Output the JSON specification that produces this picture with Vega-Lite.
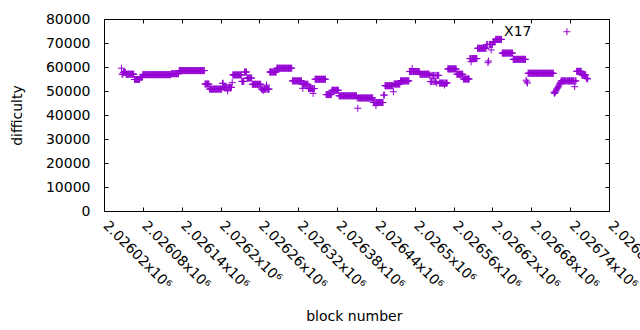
{"$schema":"https://vega.github.io/schema/vega-lite/v6.json","width":505,"height":192,"autosize":"none","padding":{"left":104,"top":19,"right":31,"bottom":119},"background":"white","config":{"view":{"stroke":"black","strokeWidth":1},"font":"DejaVu Sans"},
"datasets":{"note":[{"b":2026638,"d":74600,"text":"X17"}],"blocks":[
{"b":2026047,"d":59500},{"b":2026048,"d":57000},{"b":2026049,"d":57000},{"b":2026050,"d":57800},{"b":2026051,"d":57800},{"b":2026052,"d":57800},{"b":2026053,"d":57800},
{"b":2026054,"d":57000},{"b":2026055,"d":57000},{"b":2026056,"d":57000},{"b":2026057,"d":57000},{"b":2026058,"d":57000},{"b":2026059,"d":57000},{"b":2026060,"d":57000},{"b":2026061,"d":57000},{"b":2026062,"d":57000},{"b":2026063,"d":57000},{"b":2026064,"d":57000},{"b":2026065,"d":57000},{"b":2026066,"d":57000},
{"b":2026067,"d":54800},{"b":2026068,"d":54800},{"b":2026069,"d":54800},{"b":2026070,"d":54800},{"b":2026071,"d":54800},{"b":2026072,"d":54800},{"b":2026073,"d":54800},{"b":2026074,"d":54800},{"b":2026075,"d":54800},
{"b":2026076,"d":55700},{"b":2026077,"d":55700},{"b":2026078,"d":55700},{"b":2026079,"d":55700},
{"b":2026080,"d":56800},{"b":2026081,"d":56800},{"b":2026082,"d":56800},{"b":2026083,"d":56800},{"b":2026084,"d":56800},{"b":2026085,"d":56800},{"b":2026086,"d":56800},{"b":2026087,"d":56800},{"b":2026088,"d":56800},{"b":2026089,"d":56800},{"b":2026090,"d":56800},{"b":2026091,"d":56800},{"b":2026092,"d":56800},{"b":2026093,"d":56800},{"b":2026094,"d":56800},{"b":2026095,"d":56800},{"b":2026096,"d":56800},{"b":2026097,"d":56800},{"b":2026098,"d":56800},{"b":2026099,"d":56800},{"b":2026100,"d":56800},{"b":2026101,"d":56800},{"b":2026102,"d":56800},{"b":2026103,"d":56800},{"b":2026104,"d":56800},{"b":2026105,"d":56800},{"b":2026106,"d":56800},{"b":2026107,"d":56800},{"b":2026108,"d":56800},{"b":2026109,"d":56800},{"b":2026110,"d":56800},{"b":2026111,"d":56800},{"b":2026112,"d":56800},{"b":2026113,"d":56800},{"b":2026114,"d":56800},{"b":2026115,"d":56800},{"b":2026116,"d":56800},{"b":2026117,"d":56800},{"b":2026118,"d":56800},{"b":2026119,"d":56800},{"b":2026120,"d":56800},{"b":2026121,"d":56800},{"b":2026122,"d":56800},{"b":2026123,"d":56800},
{"b":2026124,"d":57200},{"b":2026125,"d":57200},{"b":2026126,"d":57200},{"b":2026127,"d":57200},{"b":2026128,"d":57200},{"b":2026129,"d":57200},{"b":2026130,"d":57200},{"b":2026131,"d":57200},{"b":2026132,"d":57200},{"b":2026133,"d":57200},{"b":2026134,"d":57200},{"b":2026135,"d":57200},
{"b":2026136,"d":58500},{"b":2026137,"d":58500},{"b":2026138,"d":58500},{"b":2026139,"d":58500},{"b":2026140,"d":58500},{"b":2026141,"d":58500},{"b":2026142,"d":58500},{"b":2026143,"d":58500},{"b":2026144,"d":58500},{"b":2026145,"d":58500},{"b":2026146,"d":58500},{"b":2026147,"d":58500},{"b":2026148,"d":58500},{"b":2026149,"d":58500},{"b":2026150,"d":58500},{"b":2026151,"d":58500},{"b":2026152,"d":58500},{"b":2026153,"d":58500},{"b":2026154,"d":58500},{"b":2026155,"d":58500},{"b":2026156,"d":58500},{"b":2026157,"d":58500},{"b":2026158,"d":58500},{"b":2026159,"d":58500},{"b":2026160,"d":58500},{"b":2026161,"d":58500},{"b":2026162,"d":58500},{"b":2026163,"d":58500},{"b":2026164,"d":58500},{"b":2026165,"d":58500},{"b":2026166,"d":58500},{"b":2026167,"d":58500},{"b":2026168,"d":58500},{"b":2026169,"d":58500},{"b":2026170,"d":58500},{"b":2026171,"d":58500},{"b":2026172,"d":58500},{"b":2026173,"d":58500},{"b":2026174,"d":58500},{"b":2026175,"d":58500},
{"b":2026176,"d":52900},{"b":2026177,"d":52900},{"b":2026178,"d":52900},{"b":2026179,"d":52900},{"b":2026180,"d":52900},{"b":2026181,"d":52900},{"b":2026182,"d":52900},
{"b":2026183,"d":50800},{"b":2026184,"d":50800},{"b":2026185,"d":50800},{"b":2026186,"d":50800},{"b":2026187,"d":50800},{"b":2026188,"d":50800},{"b":2026189,"d":50800},{"b":2026190,"d":50800},{"b":2026191,"d":50800},{"b":2026192,"d":50800},{"b":2026193,"d":50800},{"b":2026194,"d":50800},{"b":2026195,"d":50800},{"b":2026196,"d":50800},{"b":2026197,"d":50800},{"b":2026198,"d":50800},{"b":2026199,"d":50800},{"b":2026200,"d":50800},{"b":2026201,"d":50800},{"b":2026202,"d":50800},
{"b":2026203,"d":53200},{"b":2026204,"d":53200},{"b":2026205,"d":51500},{"b":2026206,"d":51500},{"b":2026207,"d":51500},{"b":2026208,"d":51500},{"b":2026209,"d":51500},{"b":2026210,"d":51500},{"b":2026211,"d":50000},{"b":2026212,"d":51500},{"b":2026213,"d":51500},{"b":2026214,"d":51500},{"b":2026215,"d":51500},{"b":2026216,"d":51500},{"b":2026217,"d":51500},{"b":2026218,"d":53500},
{"b":2026219,"d":56700},{"b":2026220,"d":56700},{"b":2026221,"d":56700},{"b":2026222,"d":56700},{"b":2026223,"d":56700},{"b":2026224,"d":56700},{"b":2026225,"d":56700},{"b":2026226,"d":56700},{"b":2026227,"d":56700},{"b":2026228,"d":56700},{"b":2026229,"d":56700},{"b":2026230,"d":56700},{"b":2026231,"d":56700},{"b":2026232,"d":56700},
{"b":2026233,"d":54000},{"b":2026234,"d":54000},{"b":2026235,"d":54000},{"b":2026236,"d":54000},{"b":2026237,"d":57900},{"b":2026238,"d":57900},{"b":2026239,"d":57900},{"b":2026240,"d":57900},
{"b":2026241,"d":55400},{"b":2026242,"d":55400},{"b":2026243,"d":55400},{"b":2026244,"d":55400},{"b":2026245,"d":55400},{"b":2026246,"d":55400},{"b":2026247,"d":55400},{"b":2026248,"d":55400},
{"b":2026249,"d":52800},{"b":2026250,"d":52800},{"b":2026251,"d":52800},{"b":2026252,"d":52800},{"b":2026253,"d":52800},{"b":2026254,"d":52800},{"b":2026255,"d":52800},{"b":2026256,"d":52800},{"b":2026257,"d":52800},{"b":2026258,"d":52800},{"b":2026259,"d":52800},{"b":2026260,"d":52800},{"b":2026261,"d":52800},{"b":2026262,"d":52800},
{"b":2026263,"d":50800},{"b":2026264,"d":50800},{"b":2026265,"d":50800},{"b":2026266,"d":50200},{"b":2026267,"d":50800},{"b":2026268,"d":50800},{"b":2026269,"d":50800},{"b":2026270,"d":50800},{"b":2026271,"d":52500},{"b":2026272,"d":50800},{"b":2026273,"d":50800},{"b":2026274,"d":50800},{"b":2026275,"d":50800},
{"b":2026276,"d":57900},{"b":2026277,"d":57900},{"b":2026278,"d":57900},{"b":2026279,"d":57900},{"b":2026280,"d":57900},{"b":2026281,"d":57900},{"b":2026282,"d":57900},{"b":2026283,"d":57900},{"b":2026284,"d":57900},{"b":2026285,"d":57900},{"b":2026286,"d":57900},
{"b":2026287,"d":59500},{"b":2026288,"d":59500},{"b":2026289,"d":59500},{"b":2026290,"d":59500},{"b":2026291,"d":59500},{"b":2026292,"d":59500},{"b":2026293,"d":59500},{"b":2026294,"d":59500},{"b":2026295,"d":59500},{"b":2026296,"d":59500},{"b":2026297,"d":59500},{"b":2026298,"d":59500},{"b":2026299,"d":59500},{"b":2026300,"d":59500},{"b":2026301,"d":59500},{"b":2026302,"d":59500},{"b":2026303,"d":59500},{"b":2026304,"d":59500},{"b":2026305,"d":59500},{"b":2026306,"d":59500},{"b":2026307,"d":59500},{"b":2026308,"d":59500},{"b":2026309,"d":59500},{"b":2026310,"d":59500},
{"b":2026311,"d":54200},{"b":2026312,"d":54200},{"b":2026313,"d":54200},{"b":2026314,"d":54200},{"b":2026315,"d":54200},{"b":2026316,"d":54200},{"b":2026317,"d":54200},{"b":2026318,"d":54200},{"b":2026319,"d":54200},{"b":2026320,"d":54200},{"b":2026321,"d":54200},{"b":2026322,"d":54200},{"b":2026323,"d":54200},{"b":2026324,"d":54200},{"b":2026325,"d":54200},
{"b":2026326,"d":52800},{"b":2026327,"d":51100},{"b":2026328,"d":52800},{"b":2026329,"d":52800},{"b":2026330,"d":52800},{"b":2026331,"d":52800},{"b":2026332,"d":52800},{"b":2026333,"d":52800},{"b":2026334,"d":52800},{"b":2026335,"d":52800},
{"b":2026336,"d":51000},{"b":2026337,"d":51000},{"b":2026338,"d":51000},{"b":2026339,"d":51000},{"b":2026340,"d":51000},{"b":2026341,"d":51000},{"b":2026342,"d":51000},{"b":2026343,"d":49000},{"b":2026344,"d":51000},{"b":2026345,"d":51000},
{"b":2026346,"d":54900},{"b":2026347,"d":54900},{"b":2026348,"d":54900},{"b":2026349,"d":54900},{"b":2026350,"d":54900},{"b":2026351,"d":54900},{"b":2026352,"d":54900},{"b":2026353,"d":54900},{"b":2026354,"d":54900},{"b":2026355,"d":54900},{"b":2026356,"d":54900},{"b":2026357,"d":54900},{"b":2026358,"d":54900},{"b":2026359,"d":54900},{"b":2026360,"d":54900},{"b":2026361,"d":54900},{"b":2026362,"d":54900},
{"b":2026363,"d":48500},{"b":2026364,"d":48500},{"b":2026365,"d":48500},{"b":2026366,"d":48500},{"b":2026367,"d":48500},{"b":2026368,"d":48500},{"b":2026369,"d":48500},{"b":2026370,"d":48500},{"b":2026371,"d":48500},
{"b":2026372,"d":50300},{"b":2026373,"d":50300},{"b":2026374,"d":50300},{"b":2026375,"d":50300},{"b":2026376,"d":50300},{"b":2026377,"d":50300},{"b":2026378,"d":50300},{"b":2026379,"d":50300},{"b":2026380,"d":50300},{"b":2026381,"d":50300},{"b":2026382,"d":50300},
{"b":2026383,"d":48000},{"b":2026384,"d":48000},{"b":2026385,"d":48000},{"b":2026386,"d":48000},{"b":2026387,"d":48000},{"b":2026388,"d":48000},{"b":2026389,"d":48000},{"b":2026390,"d":48000},{"b":2026391,"d":48000},{"b":2026392,"d":48000},{"b":2026393,"d":48000},{"b":2026394,"d":48000},{"b":2026395,"d":48000},{"b":2026396,"d":48000},{"b":2026397,"d":48000},{"b":2026398,"d":48000},{"b":2026399,"d":48000},{"b":2026400,"d":48000},{"b":2026401,"d":48000},{"b":2026402,"d":48000},{"b":2026403,"d":48000},{"b":2026404,"d":48000},{"b":2026405,"d":48000},{"b":2026406,"d":48000},{"b":2026407,"d":48000},{"b":2026408,"d":48000},{"b":2026409,"d":48000},{"b":2026410,"d":48000},
{"b":2026411,"d":47100},{"b":2026412,"d":42800},{"b":2026413,"d":47100},{"b":2026414,"d":47100},{"b":2026415,"d":47100},{"b":2026416,"d":47100},{"b":2026417,"d":47100},{"b":2026418,"d":47100},{"b":2026419,"d":47100},{"b":2026420,"d":47100},{"b":2026421,"d":47100},{"b":2026422,"d":47100},{"b":2026423,"d":47100},{"b":2026424,"d":47100},{"b":2026425,"d":47100},{"b":2026426,"d":47100},{"b":2026427,"d":47100},{"b":2026428,"d":47100},{"b":2026429,"d":47100},{"b":2026430,"d":47100},{"b":2026431,"d":47100},{"b":2026432,"d":47100},{"b":2026433,"d":47100},{"b":2026434,"d":47100},{"b":2026435,"d":47100},
{"b":2026436,"d":45200},{"b":2026437,"d":45200},{"b":2026438,"d":45200},{"b":2026439,"d":45200},{"b":2026440,"d":43900},{"b":2026441,"d":45200},{"b":2026442,"d":45200},{"b":2026443,"d":45200},{"b":2026444,"d":45200},{"b":2026445,"d":45200},{"b":2026446,"d":45200},{"b":2026447,"d":45200},{"b":2026448,"d":45200},{"b":2026449,"d":45200},{"b":2026450,"d":45200},{"b":2026451,"d":45200},
{"b":2026452,"d":48300},{"b":2026453,"d":48300},
{"b":2026454,"d":52200},{"b":2026455,"d":52200},{"b":2026456,"d":52200},{"b":2026457,"d":52200},{"b":2026458,"d":52200},{"b":2026459,"d":52200},{"b":2026460,"d":52200},{"b":2026461,"d":52200},{"b":2026462,"d":52200},{"b":2026463,"d":52200},{"b":2026464,"d":52200},{"b":2026465,"d":52200},{"b":2026466,"d":52200},{"b":2026467,"d":49700},
{"b":2026468,"d":52900},{"b":2026469,"d":52900},{"b":2026470,"d":52900},{"b":2026471,"d":52900},{"b":2026472,"d":52900},{"b":2026473,"d":52900},{"b":2026474,"d":52900},{"b":2026475,"d":52900},{"b":2026476,"d":52900},{"b":2026477,"d":52900},
{"b":2026478,"d":54200},{"b":2026479,"d":54200},{"b":2026480,"d":54200},{"b":2026481,"d":54200},{"b":2026482,"d":54200},{"b":2026483,"d":54200},{"b":2026484,"d":54200},{"b":2026485,"d":54200},{"b":2026486,"d":54200},{"b":2026487,"d":54200},{"b":2026488,"d":54200},{"b":2026489,"d":54200},{"b":2026490,"d":54200},{"b":2026491,"d":54200},
{"b":2026492,"d":58100},{"b":2026493,"d":58100},{"b":2026494,"d":58100},{"b":2026495,"d":58100},{"b":2026496,"d":59400},{"b":2026497,"d":58100},{"b":2026498,"d":58100},{"b":2026499,"d":58100},{"b":2026500,"d":58100},{"b":2026501,"d":58100},{"b":2026502,"d":58100},{"b":2026503,"d":58100},{"b":2026504,"d":58100},{"b":2026505,"d":58100},{"b":2026506,"d":58100},{"b":2026507,"d":58100},
{"b":2026508,"d":57000},{"b":2026509,"d":57000},{"b":2026510,"d":57000},{"b":2026511,"d":57000},{"b":2026512,"d":57000},{"b":2026513,"d":57000},{"b":2026514,"d":57000},{"b":2026515,"d":57000},{"b":2026516,"d":57000},{"b":2026517,"d":57000},{"b":2026518,"d":57000},{"b":2026519,"d":57000},{"b":2026520,"d":57000},{"b":2026521,"d":57000},{"b":2026522,"d":57000},
{"b":2026523,"d":56500},{"b":2026524,"d":53900},{"b":2026525,"d":56500},{"b":2026526,"d":53900},{"b":2026527,"d":56500},{"b":2026528,"d":53900},{"b":2026529,"d":56500},{"b":2026530,"d":53900},{"b":2026531,"d":56500},{"b":2026532,"d":53900},{"b":2026533,"d":56500},{"b":2026534,"d":53300},{"b":2026535,"d":56500},{"b":2026536,"d":56500},{"b":2026537,"d":56500},
{"b":2026538,"d":53300},{"b":2026539,"d":53300},{"b":2026540,"d":53300},{"b":2026541,"d":53300},{"b":2026542,"d":53300},{"b":2026543,"d":53300},{"b":2026544,"d":53300},{"b":2026545,"d":53300},{"b":2026546,"d":52500},{"b":2026547,"d":53300},{"b":2026548,"d":53300},{"b":2026549,"d":53300},{"b":2026550,"d":53300},
{"b":2026551,"d":59200},{"b":2026552,"d":59200},{"b":2026553,"d":59200},{"b":2026554,"d":59200},{"b":2026555,"d":59200},{"b":2026556,"d":59200},{"b":2026557,"d":59200},{"b":2026558,"d":59200},{"b":2026559,"d":59200},{"b":2026560,"d":59200},{"b":2026561,"d":59200},{"b":2026562,"d":59200},{"b":2026563,"d":59200},{"b":2026564,"d":59200},
{"b":2026565,"d":57000},{"b":2026566,"d":57000},{"b":2026567,"d":57000},{"b":2026568,"d":57000},{"b":2026569,"d":57000},{"b":2026570,"d":57000},{"b":2026571,"d":57000},{"b":2026572,"d":57000},{"b":2026573,"d":57000},{"b":2026574,"d":57000},
{"b":2026575,"d":55000},{"b":2026576,"d":55000},{"b":2026577,"d":55000},{"b":2026578,"d":55000},{"b":2026579,"d":55000},{"b":2026580,"d":55000},{"b":2026581,"d":55000},{"b":2026582,"d":55000},{"b":2026583,"d":55000},{"b":2026584,"d":55000},
{"b":2026585,"d":63500},{"b":2026586,"d":63500},{"b":2026587,"d":62200},{"b":2026588,"d":63500},{"b":2026589,"d":63500},{"b":2026590,"d":63500},{"b":2026591,"d":63500},{"b":2026592,"d":63500},{"b":2026593,"d":63500},{"b":2026594,"d":63500},{"b":2026595,"d":63500},{"b":2026596,"d":63500},
{"b":2026597,"d":67800},{"b":2026598,"d":67800},{"b":2026599,"d":67800},{"b":2026600,"d":67800},{"b":2026601,"d":67800},{"b":2026602,"d":67800},{"b":2026603,"d":67800},{"b":2026604,"d":67800},{"b":2026605,"d":67800},{"b":2026606,"d":67800},{"b":2026607,"d":67800},{"b":2026608,"d":67800},{"b":2026609,"d":67800},{"b":2026610,"d":67800},
{"b":2026611,"d":69400},{"b":2026612,"d":69400},{"b":2026613,"d":61800},{"b":2026614,"d":62500},{"b":2026615,"d":69400},{"b":2026616,"d":69400},{"b":2026617,"d":69400},{"b":2026618,"d":67100},{"b":2026619,"d":69400},{"b":2026620,"d":69400},
{"b":2026621,"d":70500},{"b":2026622,"d":70500},{"b":2026623,"d":70500},{"b":2026624,"d":70500},
{"b":2026625,"d":71500},{"b":2026626,"d":71500},{"b":2026627,"d":71500},{"b":2026628,"d":71500},{"b":2026629,"d":71500},{"b":2026630,"d":71500},{"b":2026631,"d":71500},{"b":2026632,"d":71500},{"b":2026633,"d":71500},{"b":2026634,"d":71500},
{"b":2026635,"d":65800},{"b":2026636,"d":65800},{"b":2026637,"d":65800},{"b":2026638,"d":65800},{"b":2026639,"d":65800},{"b":2026640,"d":65800},{"b":2026641,"d":65800},{"b":2026642,"d":65800},{"b":2026643,"d":65800},{"b":2026644,"d":65800},{"b":2026645,"d":65800},{"b":2026646,"d":65800},{"b":2026647,"d":65800},{"b":2026648,"d":65800},{"b":2026649,"d":65800},{"b":2026650,"d":65800},{"b":2026651,"d":65800},
{"b":2026652,"d":63200},{"b":2026653,"d":63200},{"b":2026654,"d":63200},{"b":2026655,"d":63200},{"b":2026656,"d":63200},{"b":2026657,"d":63200},{"b":2026658,"d":63200},{"b":2026659,"d":63200},{"b":2026660,"d":63200},{"b":2026661,"d":63200},{"b":2026662,"d":63200},{"b":2026663,"d":63200},{"b":2026664,"d":63200},{"b":2026665,"d":63200},{"b":2026666,"d":63200},{"b":2026667,"d":63200},{"b":2026668,"d":63200},{"b":2026669,"d":63200},{"b":2026670,"d":63200},{"b":2026671,"d":63200},
{"b":2026672,"d":54500},{"b":2026673,"d":53800},{"b":2026674,"d":53300},
{"b":2026675,"d":57400},{"b":2026676,"d":57400},{"b":2026677,"d":57400},{"b":2026678,"d":57400},{"b":2026679,"d":57400},{"b":2026680,"d":57400},{"b":2026681,"d":57400},{"b":2026682,"d":57400},{"b":2026683,"d":57400},{"b":2026684,"d":57400},{"b":2026685,"d":57400},{"b":2026686,"d":57400},{"b":2026687,"d":57400},{"b":2026688,"d":57400},{"b":2026689,"d":57400},{"b":2026690,"d":57400},{"b":2026691,"d":57400},{"b":2026692,"d":57400},{"b":2026693,"d":57400},{"b":2026694,"d":57400},{"b":2026695,"d":57400},{"b":2026696,"d":57400},{"b":2026697,"d":57400},{"b":2026698,"d":57400},{"b":2026699,"d":57400},{"b":2026700,"d":57400},{"b":2026701,"d":57400},{"b":2026702,"d":57400},{"b":2026703,"d":57400},{"b":2026704,"d":57400},{"b":2026705,"d":57400},{"b":2026706,"d":57400},{"b":2026707,"d":57400},{"b":2026708,"d":57400},{"b":2026709,"d":57400},{"b":2026710,"d":57400},{"b":2026711,"d":57400},{"b":2026712,"d":57400},{"b":2026713,"d":57400},{"b":2026714,"d":57400},
{"b":2026715,"d":49500},{"b":2026716,"d":49000},{"b":2026717,"d":49500},{"b":2026718,"d":50000},{"b":2026719,"d":50500},{"b":2026720,"d":51000},{"b":2026721,"d":51500},{"b":2026722,"d":52000},{"b":2026723,"d":52500},{"b":2026724,"d":53000},{"b":2026725,"d":53500},
{"b":2026726,"d":54200},{"b":2026727,"d":54200},{"b":2026728,"d":54200},{"b":2026729,"d":54200},{"b":2026730,"d":54200},{"b":2026731,"d":54200},{"b":2026732,"d":54200},{"b":2026733,"d":54200},{"b":2026734,"d":54200},{"b":2026735,"d":74700},{"b":2026736,"d":54200},{"b":2026737,"d":54200},{"b":2026738,"d":54200},{"b":2026739,"d":54200},{"b":2026740,"d":54200},{"b":2026741,"d":54200},{"b":2026742,"d":54200},{"b":2026743,"d":54200},{"b":2026744,"d":54200},{"b":2026745,"d":54200},{"b":2026746,"d":54200},
{"b":2026747,"d":51800},{"b":2026748,"d":54200},{"b":2026749,"d":54200},
{"b":2026750,"d":58200},{"b":2026751,"d":58200},{"b":2026752,"d":58200},{"b":2026753,"d":58200},{"b":2026754,"d":58200},{"b":2026755,"d":58200},{"b":2026756,"d":58200},{"b":2026757,"d":58200},
{"b":2026758,"d":56700},{"b":2026759,"d":56700},{"b":2026760,"d":56700},{"b":2026761,"d":56700},{"b":2026762,"d":56700},{"b":2026763,"d":56700},{"b":2026764,"d":56700},
{"b":2026765,"d":55300},{"b":2026766,"d":55300},{"b":2026767,"d":55000}
]},
"layer":[
{"data":{"name":"blocks"},"mark":{"type":"point","shape":"M-1,0L1,0M0,-1L0,1","size":49,"color":"#9400d3","strokeWidth":1,"filled":false,"opacity":1},
"encoding":{
"x":{"field":"b","type":"quantitative","scale":{"domain":[2026020,2026800],"nice":false,"zero":false},
"axis":{"title":"block number","values":[2026020,2026080,2026140,2026200,2026260,2026320,2026380,2026440,2026500,2026560,2026620,2026680,2026740,2026800],"labelExpr":"format(datum.value/1000000,'.6~g')+'x10⁶'","labelAngle":45,"labelAlign":"left","labelBaseline":"alphabetic","labelPadding":19,"labelOffset":-2,"tickSize":-4,"tickColor":"black","domain":false,"grid":false,"labelFont":"DejaVu Sans","labelFontSize":14,"labelColor":"black","labelOverlap":false,"labelFlush":false,"labelBound":false,"titleFont":"DejaVu Sans","titleFontSize":14,"titleFontWeight":"normal","titleColor":"black","titleX":249.8,"titleY":109,"titleBaseline":"alphabetic","titleAlign":"center"}},
"y":{"field":"d","type":"quantitative","scale":{"domain":[0,80000],"nice":false,"zero":true},
"axis":{"title":"difficulty","values":[0,10000,20000,30000,40000,50000,60000,70000,80000],"format":"d","tickSize":-4,"tickColor":"black","domain":false,"grid":false,"labelPadding":18,"labelFont":"DejaVu Sans","labelFontSize":14,"labelColor":"black","labelOverlap":false,"labelFlush":false,"labelBound":false,"labelBaseline":"middle","titleFont":"DejaVu Sans","titleFontSize":14,"titleFontWeight":"normal","titleColor":"black","titleAngle":-90,"titleX":-83,"titleY":96,"titleBaseline":"alphabetic","titleAlign":"center"}}}},
{"data":{"name":"note"},"mark":{"type":"text","align":"left","baseline":"middle","font":"DejaVu Sans","fontSize":14,"color":"black"},
"encoding":{
"x":{"field":"b","type":"quantitative","axis":{"orient":"top","labels":false,"title":null,"domain":false,"grid":false,"tickSize":-4,"tickColor":"black","values":[2026020,2026080,2026140,2026200,2026260,2026320,2026380,2026440,2026500,2026560,2026620,2026680,2026740,2026800]}},
"y":{"field":"d","type":"quantitative","axis":{"orient":"right","labels":false,"title":null,"domain":false,"grid":false,"tickSize":-4,"tickColor":"black","values":[0,10000,20000,30000,40000,50000,60000,70000,80000]}},
"text":{"field":"text"}}}
],
"resolve":{"axis":{"x":"independent","y":"independent"}}
}
